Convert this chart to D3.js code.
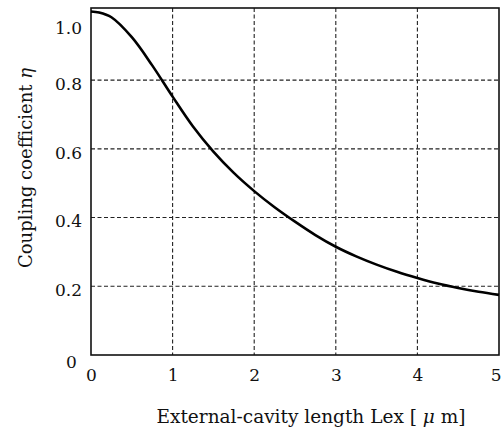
<!DOCTYPE html>
<html>
<head>
<meta charset="utf-8">
<script src="https://cdn.jsdelivr.net/npm/d3@7"></script>
<style>
  body { margin: 0; background: #fff; }
  text { font-family: "DejaVu Serif", "Liberation Serif", serif; fill: #111; }
</style>
</head>
<body>
<div class="canvas"></div>
<script>
// curve
const lex = [0, 0.1, 0.25, 0.5, 0.75, 1, 1.25, 1.5, 1.75, 2, 2.25, 2.5, 2.75, 3, 3.25, 3.5, 3.75, 4, 4.25, 4.5, 4.75, 5]
const eta = [1.0, 0.997, 0.983, 0.925, 0.843, 0.752, 0.665, 0.592, 0.530, 0.477, 0.430, 0.388, 0.349, 0.315, 0.287, 0.263, 0.242, 0.224, 0.208, 0.195, 0.184, 0.175]

const xTicks = [0, 1, 2, 3, 4, 5]
const yTicks = [0, 0.2, 0.4, 0.6, 0.8, 1.0]
const yTickLabels = ["0", "0.2", "0.4", "0.6", "0.8", "1.0"]

const width = 503
const height = 429
const margin = { top: 8, right: 4, bottom: 74, left: 91 }
const graphWidth = width - margin.left - margin.right
const graphHeight = height - margin.top - margin.bottom

const svg = d3.select(".canvas").append("svg")
    .attr("width", width)
    .attr("height", height)

const graph = svg.append("g")
    .attr("transform", `translate(${margin.left}, ${margin.top})`)

const x = d3.scaleLinear().domain([0, 5]).range([0, graphWidth])
const y = d3.scaleLinear().domain([0, 1.01]).range([graphHeight, 0])

// dashed grid
graph.append("g")
    .selectAll("line")
    .data(xTicks.slice(1, -1))
    .enter()
    .append("line")
    .attr("x1", d => x(d)).attr("x2", d => x(d))
    .attr("y1", 0).attr("y2", graphHeight)
    .attr("stroke", "#222").attr("stroke-width", 1.1)
    .attr("stroke-dasharray", "4,2.5")

graph.append("g")
    .selectAll("line")
    .data(yTicks.slice(1, -1))
    .enter()
    .append("line")
    .attr("x1", 0).attr("x2", graphWidth)
    .attr("y1", d => y(d)).attr("y2", d => y(d))
    .attr("stroke", "#222").attr("stroke-width", 1.1)
    .attr("stroke-dasharray", "4,2.5")

// frame
graph.append("rect")
    .attr("width", graphWidth)
    .attr("height", graphHeight)
    .attr("fill", "none")
    .attr("stroke", "#111")
    .attr("stroke-width", 1.6)

// axes
const xAxis = d3.axisBottom(x).tickValues(xTicks).tickSize(0).tickPadding(14)
    .tickFormat(d3.format("d"))
const yAxis = d3.axisLeft(y).tickValues(yTicks).tickSize(0).tickPadding(9)
    .tickFormat((d, i) => yTickLabels[i])

const xAxisGroup = graph.append("g")
    .attr("transform", `translate(0, ${graphHeight})`)
    .call(xAxis)
const yAxisGroup = graph.append("g").call(yAxis)

xAxisGroup.select(".domain").remove()
yAxisGroup.select(".domain").remove()
xAxisGroup.selectAll("text")
    .style("font-family", "DejaVu Serif").style("font-size", "17px").attr("fill", "#111")
    .attr("dx", (d, i) => i === xTicks.length - 1 ? "-0.2em" : 0)
yAxisGroup.selectAll("text")
    .style("font-family", "DejaVu Serif").style("font-size", "17px").attr("fill", "#111")
    .attr("dx", (d, i) => i === 0 ? "-0.3em" : 0)
    .attr("dy", (d, i) => i === yTicks.length - 1 ? "1.3em" : (i === 0 ? "0.75em" : "0.55em"))

// curve
const line = d3.line()
    .x((d, i) => x(lex[i]))
    .y(d => y(d))
    .curve(d3.curveCatmullRom)

graph.append("path")
    .datum(eta)
    .attr("d", line)
    .attr("fill", "none")
    .attr("stroke", "#000")
    .attr("stroke-width", 2.6)

// titles
const xTitle = svg.append("text")
    .attr("x", margin.left + graphWidth / 2 + 16)
    .attr("y", 423)
    .attr("text-anchor", "middle")
    .style("font-size", "18.5px")
xTitle.append("tspan").text("External-cavity length Lex [ ")
xTitle.append("tspan").style("font-style", "italic").text("μ")
xTitle.append("tspan").text(" m]")

const yTitle = svg.append("text")
    .attr("transform", "translate(32, 168) rotate(-90)")
    .attr("text-anchor", "middle")
    .style("font-size", "18px")
yTitle.append("tspan").text("Coupling coefficient  ")
yTitle.append("tspan").style("font-style", "italic").text("η")
</script>
</body>
</html>
